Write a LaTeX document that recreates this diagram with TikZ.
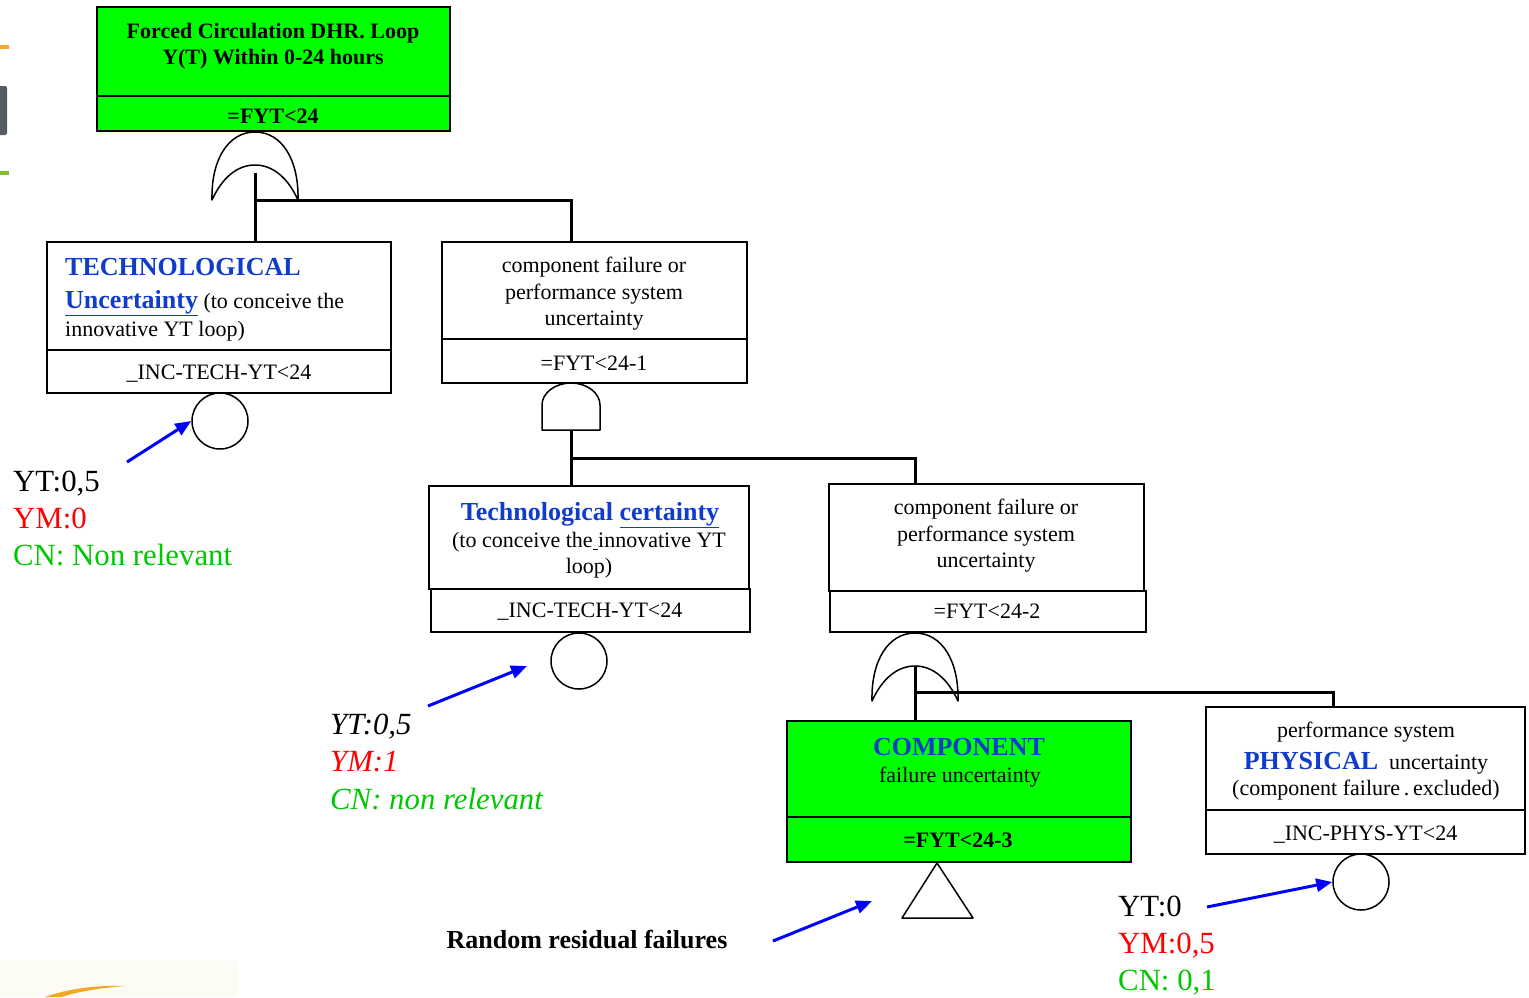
\documentclass[tikz,border=0pt]{standalone}
\usepackage{fontspec}
\setmainfont{Liberation Serif}
\usetikzlibrary{arrows.meta}
\definecolor{fgreen}{RGB}{0,255,0}
\definecolor{tblue}{RGB}{16,60,204}
\definecolor{tred}{RGB}{255,0,0}
\definecolor{tgreen}{RGB}{0,200,0}
\definecolor{ablue}{RGB}{0,0,255}
\definecolor{mkorange}{RGB}{245,166,35}
\definecolor{mkgray}{RGB}{85,90,95}
\definecolor{mkgreen}{RGB}{125,190,50}
\definecolor{cream}{RGB}{252,252,245}
\begin{document}
\begin{tikzpicture}[x=1pt,y=-1pt,
 box/.style={draw, line width=1.5pt, inner sep=0pt, outer sep=0pt},
 gbox/.style={box, fill=fgreen},
 txt/.style={font=\fontsize{22}{26.5}\selectfont, align=center, inner sep=0pt},
 bl/.style={txt, anchor=base},
 bbl/.style={bl, font=\fontsize{22}{26.5}\selectfont\bfseries},
 hd/.style={font=\fontsize{26}{30}\selectfont\bfseries, text=tblue},
 lab/.style={font=\fontsize{30.8}{37}\selectfont, anchor=base west, inner sep=0pt},
 ilab/.style={lab, font=\fontsize{30.8}{37}\selectfont\itshape},
 conn/.style={line width=3pt},
 gate/.style={line width=1.5pt, fill=white, line join=round},
 event/.style={circle, draw, line width=1.5pt, minimum size=56pt, inner sep=0pt},
 arr/.style={draw=ablue, line width=3pt, -{Triangle[length=16pt,width=13pt]}},
]
\useasboundingbox (0,0) rectangle (1529,997);

% slide remnants
\fill[mkorange] (0,45) rectangle (9,49);
\fill[mkgray, rounded corners=2pt] (-3,86) rectangle (7,135);
\fill[mkgreen] (0,171) rectangle (9,175);
\fill[cream] (0,961) rectangle (238,997);
\fill[mkorange] (45,997) .. controls (70,988) and (100,985) .. (125,986) .. controls (100,988) and (75,992) .. (62,997) -- cycle;

% boxes
\node[gbox, minimum width=353pt, minimum height=89pt] (top) at (273.5,51.5) {};
\node[gbox, minimum width=353pt, minimum height=35pt] (topid) at (273.5,113.5) {};
\node[box, minimum width=344pt, minimum height=108pt] (tech) at (219,296) {};
\node[box, minimum width=344pt, minimum height=43pt] (techid) at (219,371.5) {};
\node[box, minimum width=305pt, minimum height=97pt] (comp1) at (594.5,290.5) {};
\node[box, minimum width=305pt, minimum height=44pt] (comp1id) at (594.5,361) {};
\node[box, minimum width=320pt, minimum height=103pt] (tcert) at (589,537.5) {};
\node[box, minimum width=319pt, minimum height=43pt] (tcertid) at (590.5,610.5) {};
\node[box, minimum width=315pt, minimum height=107pt] (comp2) at (986.5,537.5) {};
\node[box, minimum width=316pt, minimum height=41pt] (comp2id) at (988,611.5) {};
\node[gbox, line width=2pt, minimum width=344pt, minimum height=96pt] (compo) at (959,769) {};
\node[gbox, line width=2pt, minimum width=344pt, minimum height=45pt] (compoid) at (959,839.5) {};
\node[box, minimum width=319pt, minimum height=103pt] (phys) at (1365.5,758.5) {};
\node[box, minimum width=319pt, minimum height=44pt] (physid) at (1365.5,832) {};

% texts
\node[bbl] (t1a) at (273,38.5) {Forced Circulation DHR. Loop};
\node[bbl] (t1b) at (273,64.5) {Y(T) Within 0-24 hours};
\node[bbl] (t1c) at (273,123.5) {=FYT<24};

\node[txt, anchor=base west, hd] (t2a) at (65,275.5) {TECHNOLOGICAL};
\node[txt, anchor=base west] (t2b) at (65,308.5) {{\fontsize{26}{30}\selectfont\bfseries\color{tblue}\underline{Uncertainty}} (to conceive the};
\node[txt, anchor=base west] (t2c) at (65,336) {innovative YT loop)};
\node[txt] (t2d) at (219,374) {\_INC-TECH-YT<24};

\node[txt] (t3a) at (594,294) {component failure or\\performance system\\uncertainty};
\node[txt] (t3b) at (594,363.5) {=FYT<24-1};

\node[txt, anchor=base, hd] (t4a) at (590,520.5) {Technological \underline{certainty}};
\node[bl] (t4b) at (589,547.5) {(to conceive the\underline{\ }innovative YT};
\node[bl] (t4c) at (589,573.5) {loop)};
\node[txt] (t4d) at (590,612) {\_INC-TECH-YT<24};

\node[txt] (t5a) at (986,536) {component failure or\\performance system\\uncertainty};
\node[txt] (t5b) at (987,611.5) {=FYT<24-2};

\node[txt, anchor=base, hd] (t6a) at (959,755) {COMPONENT};
\node[bl] (t6b) at (960,782) {failure uncertainty};
\node[bbl] (t6c) at (958,847.5) {=FYT<24-3};

\node[bl] (t7a) at (1366,737.5) {performance system};
\node[bl] (t7b) at (1366,769) {{\fontsize{26}{30}\selectfont\bfseries\color{tblue}PHYSICAL}\ \ uncertainty};
\node[bl] (t7c) at (1366,795.5) {(component failure\,.\,excluded)};
\node[txt] (t7d) at (1365.5,835) {\_INC-PHYS-YT<24};

% gates
\draw[gate] (212,200) .. controls (211,160) and (228,132) .. (255,132)
  .. controls (282,132) and (299,160) .. (298,200)
  .. controls (288,178) and (273,165) .. (255,165)
  .. controls (237,165) and (222,178) .. (212,200) -- cycle;
\draw[gate] (542,430) -- (542,405) .. controls (542,393) and (555,383) .. (571,383)
  .. controls (587,383) and (600,393) .. (600,405) -- (600,430) -- cycle;
\draw[gate] (872,701) .. controls (871,661) and (888,633) .. (915,633)
  .. controls (942,633) and (959,661) .. (958,701)
  .. controls (948,679) and (933,666) .. (915,666)
  .. controls (897,666) and (882,679) .. (872,701) -- cycle;
\draw[gate] (937,863) -- (973,918) -- (902,918) -- cycle;

% connectors
\coordinate (g1out) at (255,173);
\coordinate (j1) at (255,200);
\coordinate (c1in) at (571,200);
\draw[conn] (g1out) -- (g1out |- tech.north);
\draw[conn] (j1) -- (c1in) -- (c1in |- comp1.north);
\coordinate (g2out) at (571,430);
\coordinate (j2) at (571,458);
\coordinate (c2in) at (915,458);
\draw[conn] (g2out) -- (g2out |- tcert.north);
\draw[conn] (j2) -- (c2in) -- (c2in |- comp2.north);
\coordinate (g3out) at (915,667);
\coordinate (j3) at (915,692);
\coordinate (c3in) at (1333,692);
\draw[conn] (g3out) -- (g3out |- compo.north);
\draw[conn] (j3) -- (c3in) -- (c3in |- phys.north);

% basic events
\node[event] (e1) at (220,421) {};
\node[event] (e2) at (579,661) {};
\node[event] (e3) at (1361,882) {};

% arrows
\coordinate (a1s) at (127,462);
\draw[arr] (a1s) -- (e1.west);
\coordinate (a2s) at (428,706);
\coordinate (a2e) at (527,666);
\draw[arr] (a2s) -- (a2e);
\coordinate (a3s) at (773,941);
\coordinate (a3e) at (872,901);
\draw[arr] (a3s) -- (a3e);
\coordinate (a4s) at (1207,907);
\draw[arr] (a4s) -- (e3.west);

% labels
\node[lab] (l1a) at (13,491) {YT:0,5};
\node[lab, text=tred] (l1b) at (13,528) {YM:0};
\node[lab, text=tgreen] (l1c) at (13,565) {CN: Non relevant};
\node[ilab] (l2a) at (330,734) {YT:0,5};
\node[ilab, text=tred] (l2b) at (330,771) {YM:1};
\node[ilab, text=tgreen] (l2c) at (330,809) {CN: non relevant};
\node[lab] (l3a) at (1118,916) {YT:0};
\node[lab, text=tred] (l3b) at (1118,953) {YM:0,5};
\node[lab, text=tgreen] (l3c) at (1118,990) {CN: 0,1};

\node[txt, anchor=base, font=\fontsize{26}{30}\selectfont\bfseries] (rr) at (587,948) {Random residual failures};
\end{tikzpicture}
\end{document}
